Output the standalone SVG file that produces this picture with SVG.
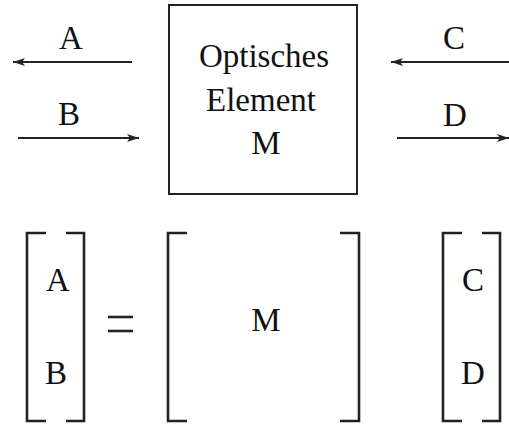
<svg xmlns="http://www.w3.org/2000/svg" width="509" height="424" viewBox="0 0 509 424">
<style>
text{font-family:"Liberation Serif","Times New Roman",serif;font-size:33px;fill:#111;text-anchor:middle}
.ln{stroke:#222;stroke-width:2;fill:none}
.br{stroke:#222;stroke-width:2.6;fill:none}
</style>
<defs>
<marker id="ah" viewBox="0 0 12 8" refX="12" refY="4" markerWidth="12" markerHeight="8" markerUnits="userSpaceOnUse" orient="auto">
<path d="M0,0 L12,4 L0,8 L3,4 z" fill="#222"/>
</marker>
</defs>
<rect width="509" height="424" fill="#fff"/>
<g id="connectors">
<line class="ln" x1="132" y1="62" x2="13" y2="62" marker-end="url(#ah)"/>
<line class="ln" x1="18" y1="138" x2="139" y2="138" marker-end="url(#ah)"/>
<line class="ln" x1="509" y1="62" x2="391" y2="62" marker-end="url(#ah)"/>
<line class="ln" x1="397" y1="138" x2="509" y2="138" marker-end="url(#ah)"/>
</g>
<g id="label-A"><text x="71" y="49">A</text></g>
<g id="label-B"><text x="69" y="125">B</text></g>
<g id="label-C"><text x="454" y="49">C</text></g>
<g id="label-D"><text x="455" y="126">D</text></g>
<g id="element">
<rect x="169" y="5" width="188" height="189" fill="none" stroke="#222" stroke-width="2"/>
<text x="264" y="67">Optisches</text>
<text x="261" y="111">Element</text>
<text x="266" y="154">M</text>
</g>
<g id="vector-AB">
<path class="br" d="M46,233 H27 V421 H46"/>
<path class="br" d="M66,233 H84 V421 H66"/>
<text x="58" y="291">A</text>
<text x="56" y="384">B</text>
</g>
<g id="equals">
<line class="br" x1="108" y1="317" x2="133" y2="317"/>
<line class="br" x1="108" y1="331" x2="133" y2="331"/>
</g>
<g id="matrix-M">
<path class="br" d="M187,233 H168 V421 H187"/>
<path class="br" d="M340,233 H359 V421 H340"/>
<text x="266" y="331">M</text>
</g>
<g id="vector-CD">
<path class="br" d="M462,233 H443 V421 H462"/>
<path class="br" d="M482,233 H500 V421 H482"/>
<text x="473" y="291">C</text>
<text x="473" y="384">D</text>
</g>
</svg>
